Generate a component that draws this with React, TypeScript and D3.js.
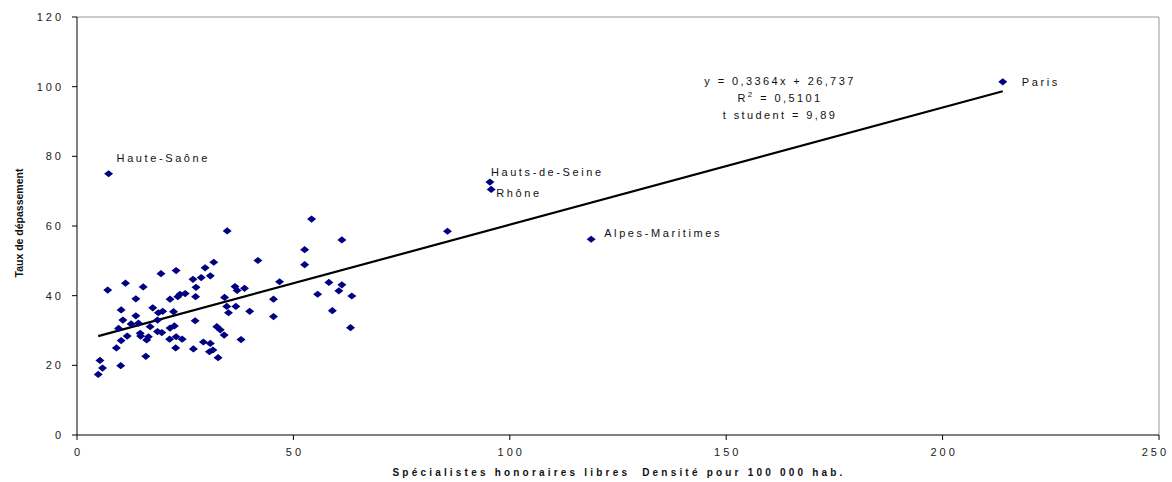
import React from "react";
import * as d3 from "d3";

// density of fee-free specialists (x) vs overbilling rate (y), one point per département
const densite = [
  34.7, 7.1, 11.2, 15.3, 19.4, 22.9, 13.6, 10.2, 10.6, 13.6, 17.5, 19.8, 18.8, 22.3, 12.5, 14.2,
  9.6, 16.9, 18.6, 14.6, 14.7, 11.6, 10.2, 9.1, 16.5, 16.1, 18.6, 19.6, 21.5, 22.5, 21.4, 22.9,
  24.3, 22.8, 15.9, 10.1, 5.3, 5.9, 4.9, 21.5, 23.3, 23.8, 25.0, 27.4, 27.5, 26.8, 28.7, 30.8,
  29.6, 31.6, 27.3, 26.9, 29.2, 30.8, 31.4, 30.6, 32.6, 32.3, 33.1, 34.0, 34.1, 34.6, 35.0,
  54.2, 61.2, 52.6, 52.6, 41.8, 46.8, 58.2, 61.2, 60.5, 55.6, 63.5, 45.4, 36.5, 37.0, 38.7,
  36.7, 39.9, 59.0, 45.4, 63.2, 37.9, 85.6,
];
const taux = [
  58.6, 41.6, 43.6, 42.5, 46.3, 47.2, 39.1, 35.9, 33.0, 34.2, 36.5, 35.5, 35.1, 35.4, 31.9, 32.1,
  30.6, 31.1, 33.0, 29.2, 28.4, 28.4, 27.1, 25.0, 28.2, 27.3, 29.7, 29.4, 30.7, 31.3, 27.5, 28.2,
  27.5, 25.0, 22.6, 19.9, 21.4, 19.2, 17.4, 39.0, 39.7, 40.4, 40.6, 39.7, 42.4, 44.7, 45.2, 45.7,
  48.0, 49.6, 32.8, 24.7, 26.7, 26.3, 24.4, 23.9, 22.2, 31.1, 30.2, 28.7, 39.5, 36.9, 35.1,
  62.0, 56.0, 53.2, 48.9, 50.1, 44.0, 43.8, 43.1, 41.4, 40.4, 39.9, 39.0, 42.6, 41.5, 42.1,
  36.9, 35.5, 35.7, 34.0, 30.8, 27.4, 58.5,
];

// named départements
const nomsDep = ["Haute-Saône", "Hauts-de-Seine", "Rhône", "Alpes-Maritimes", "Paris"];
const densiteDep = [7.3, 95.4, 95.7, 118.8, 213.9];
const tauxDep = [75.0, 72.6, 70.5, 56.2, 101.4];
const labelOffset: [number, number][] = [
  [8, -12],
  [1, -6],
  [5, 8],
  [13, -2],
  [19, 4],
];

const xTicks = [0, 50, 100, 150, 200, 250];
const yTicks = [0, 20, 40, 60, 80, 100, 120];

const pente = 0.3364;
const origine = 26.737;
const equation = ["y = 0,3364x + 26,737", "R", "t student = 9,89"];

const W = 1172;
const H = 482;
const FONT = "Liberation Sans, Arial, sans-serif";
const NAVY = "#000080";

export default function App() {
  const x = d3.scaleLinear().domain([0, 250]).range([77, 1159]);
  const y = d3.scaleLinear().domain([0, 120]).range([435, 17]);

  const all = densite.concat(densiteDep);
  const xMin = d3.min(all)!;
  const xMax = d3.max(all)!;

  const diamond = (cx: number, cy: number) =>
    `M${cx},${cy - 3.6}L${cx + 4.5},${cy}L${cx},${cy + 3.6}L${cx - 4.5},${cy}Z`;

  const pts = densite.map((d, i) => [d, taux[i]]);

  return (
    <svg
      width={W}
      height={H}
      style={{ position: "absolute", left: 0, top: 0, background: "#fff" }}
      fontFamily={FONT}
    >
      <rect width={W} height={H} fill="#fff" />
      {/* plot frame */}
      <path d={`M${x(0)},${y(120)}H${x(250)}V${y(0)}`} fill="none" stroke="#999" strokeWidth={1} />
      <line x1={x(0)} x2={x(250)} y1={y(0)} y2={y(0)} stroke="#000" />
      <line x1={x(0)} x2={x(0)} y1={y(0)} y2={y(120)} stroke="#000" />

      {yTicks.map((t) => (
        <g key={"y" + t}>
          <line x1={x(0) - 5} x2={x(0)} y1={y(t)} y2={y(t)} stroke="#000" />
          <text x={x(0) - 13} y={y(t) + 4} textAnchor="end" fontSize={11} letterSpacing={3} fill="#222">
            {t}
          </text>
        </g>
      ))}
      {xTicks.map((t, i) => {
        const last = i === xTicks.length - 1;
        return (
          <g key={"x" + t}>
            <line x1={x(t)} x2={x(t)} y1={y(0)} y2={y(0) + 5} stroke="#000" />
            <text
              x={last ? W - 3 : x(t) + 1.5}
              y={y(0) + 21}
              textAnchor={last ? "end" : "middle"}
              fontSize={11}
              letterSpacing={3}
              fill="#222"
            >
              {t}
            </text>
          </g>
        );
      })}

      {/* regression line */}
      <line
        x1={x(xMin)}
        y1={y(pente * xMin + origine)}
        x2={x(xMax)}
        y2={y(pente * xMax + origine)}
        stroke="#000"
        strokeWidth={2.2}
      />

      {pts.map(([a, b], i) => (
        <path key={"p" + i} d={diamond(x(a), y(b))} fill={NAVY} />
      ))}
      {nomsDep.map((n, i) => (
        <g key={n}>
          <path d={diamond(x(densiteDep[i]), y(tauxDep[i]))} fill={NAVY} />
          <text
            x={x(densiteDep[i]) + labelOffset[i][0]}
            y={y(tauxDep[i]) + labelOffset[i][1]}
            fontSize={11}
            letterSpacing={2.6}
            fill="#111"
          >
            {n}
          </text>
        </g>
      ))}

      {/* equation */}
      <g fontSize={11} letterSpacing={2.4} fill="#111" textAnchor="middle">
        <text x={780} y={85}>{equation[0]}</text>
        <text x={780} y={102}>
          R<tspan dy={-5} fontSize={8}>2</tspan>
          <tspan dy={5}> = 0,5101</tspan>
        </text>
        <text x={780} y={119}>{equation[2]}</text>
      </g>

      <text
        x={619}
        y={476}
        textAnchor="middle"
        fontSize={10}
        fontWeight="bold"
        letterSpacing={3.2}
        fill="#111"
      >
        {"Spécialistes honoraires libres\u00a0 Densité pour 100 000 hab."}
      </text>
      <text
        transform={`translate(22.5,223) rotate(-90)`}
        textAnchor="middle"
        fontSize={10.5}
        fontWeight="bold"
        fill="#111"
      >
        Taux de dépassement
      </text>
    </svg>
  );
}
